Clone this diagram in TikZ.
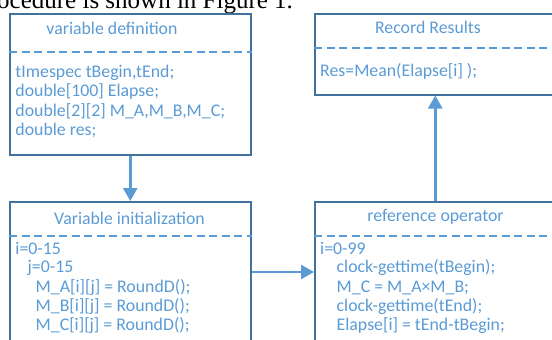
\documentclass[tikz,border=0pt]{standalone}
\usepackage{fontspec}
\setmainfont{Carlito}
\newfontfamily\seriffont{Liberation Serif}
\usetikzlibrary{arrows.meta}
\definecolor{bordc}{HTML}{41719C}
\definecolor{txtc}{HTML}{5B9BD5}
\begin{document}
\begin{tikzpicture}[x=1pt,y=-1pt,
 box/.style={draw=bordc,line width=1.5pt,rectangle,inner sep=0pt,anchor=north west},
 sep/.style={draw=txtc,line width=2pt,dash pattern=on 8pt off 4.5pt},
 ttl/.style={text=txtc,font=\fontsize{17.8}{19.5}\selectfont,anchor=base,inner sep=0pt},
 ln/.style={text=txtc,font=\fontsize{17.8}{19.5}\selectfont,anchor=base west,inner sep=0pt},
 arr/.style={draw=txtc,line width=2.5pt,-{Triangle[width=14pt,length=13pt]}}]
\clip (0,0) rectangle (552,340);
\node[anchor=base west,inner sep=0pt,font=\seriffont\fontsize{25}{30}\selectfont] (cap) at (-3,8.5) {ocedure is shown in Figure 1.};
% boxes
\node[box,minimum width=241pt,minimum height=141pt] (def) at (9,13) {};
\node[box,minimum width=241pt,minimum height=81pt] (rec) at (314,13) {};
\node[box,minimum width=241pt,minimum height=150pt] (init) at (9,201) {};
\node[box,minimum width=241pt,minimum height=150pt] (ref) at (314,201) {};
% separators
\draw[sep] ([yshift=-39pt]def.north west) -- ([yshift=-39pt]def.north east);
\draw[sep] ([yshift=-35pt]rec.north west) -- ([yshift=-35pt]rec.north east);
\draw[sep] ([yshift=-35pt]init.north west) -- ([yshift=-35pt]init.north east);
\draw[sep] ([yshift=-35pt]ref.north west) -- ([yshift=-35pt]ref.north east);
% titles
\node[ttl] (t1) at (112,34.3) {variable definition};
\node[ttl] (t2) at (428,33.3) {Record Results};
\node[ttl] (t3) at (129.5,224.3) {Variable initialization};
\node[ttl] (t4) at (435.5,221.5) {reference operator};
% box 1 body
\node[ln] (d1) at (15.3,77.3) {tImespec tBegin,tEnd;};
\node[ln] (d2) at (15.3,96.7) {double[100] Elapse;};
\node[ln] (d3) at (15.3,116.5) {double[2][2] M\_A,M\_B,M\_C;};
\node[ln] (d4) at (15.3,135.5) {double res;};
% box 2 body
\node[ln] (r1) at (320,76.7) {Res=Mean(Elapse[i] );};
% box 3 body
\node[ln] (i1) at (15.3,254) {i=0-15};
\node[ln] (i2) at (27.5,272.7) {j=0-15};
\node[ln] (i3) at (35.5,292.5) {M\_A[i][j] = RoundD();};
\node[ln] (i4) at (35.5,311.7) {M\_B[i][j] = RoundD();};
\node[ln] (i5) at (35.5,330.5) {M\_C[i][j] = RoundD();};
% box 4 body
\node[ln] (o1) at (320,254) {i=0-99};
\node[ln] (o2) at (336.5,272.7) {clock-gettime(tBegin);};
\node[ln] (o3) at (336.5,292.5) {M\_C = M\_A×M\_B;};
\node[ln] (o4) at (336.5,311.7) {clock-gettime(tEnd);};
\node[ln] (o5) at (336.5,330.5) {Elapse[i] = tEnd-tBegin;};
% connectors
\coordinate (mid) at (0,272);
\draw[arr] (def.south) -- (init.north);
\draw[arr] (init.east |- mid) -- (ref.west |- mid);
\draw[arr] (ref.north) -- (rec.south);
\end{tikzpicture}
\end{document}
